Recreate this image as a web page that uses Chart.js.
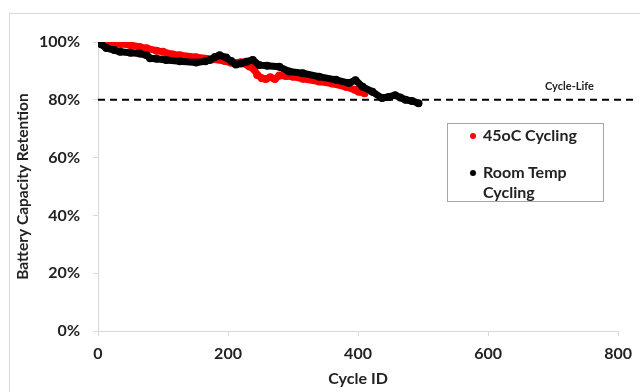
<!DOCTYPE html>
<html>
<head>
<meta charset="utf-8">
<script src="https://cdn.jsdelivr.net/npm/chart.js@4/dist/chart.umd.min.js"></script>
<style>
  body { margin: 0; background: #fff; }
  #wrap { position: relative; width: 640px; height: 392px; overflow: hidden; font-family: Lato, "Open Sans", sans-serif; }
  #frame { position: absolute; left: 9px; top: 13px; width: 700px; height: 500px; border-left: 1px solid #d9d9d9; border-top: 1px solid #d9d9d9; }
  #chart { position: absolute; left: 0; top: 0; }
  #legend { position: absolute; left: 447px; top: 123px; width: 155px; height: 77px; border: 1px solid #a6a6a6; background: #fff; }
  .item { position: absolute; left: 35px; font-weight: bold; font-size: 16px; color: #222; line-height: 20px; }
  .dot { position: absolute; left: -13px; top: 8px; width: 6px; height: 6px; border-radius: 50%; }
  #cyclelife { position: absolute; left: 545px; top: 79px; font-weight: bold; font-size: 11px; color: #222; }
</style>
</head>
<body>
<div id="wrap">
  <div id="frame"></div>
  <canvas id="chart" width="640" height="392"></canvas>
  <div id="cyclelife">Cycle-Life</div>
  <div id="legend">
    <div class="item" style="top:1px"><span class="dot" style="background:#ff0000"></span>45oC Cycling</div>
    <div class="item" style="top:38px"><span class="dot" style="background:#000"></span>Room Temp<br>Cycling</div>
  </div>
</div>
<script>
// 45oC cycling (red)
const hotCycles = [0, 8, 18, 35, 49, 64, 75, 90, 100, 115, 126, 151, 177, 195, 205, 220, 233, 240, 245, 252, 258, 265, 272, 279, 289, 300, 315, 340, 360, 381, 395, 401, 410];
const hotRetention = [100, 99.8, 99.7, 99.3, 99.0, 98.3, 97.8, 97.0, 96.6, 95.7, 95.4, 94.7, 94.0, 93.4, 92.8, 93.0, 91.5, 90.6, 88.6, 87.5, 87.2, 87.8, 87.2, 88.4, 88.2, 88.0, 87.3, 86.3, 85.6, 84.5, 83.5, 82.8, 82.3];

// room temp cycling (black)
const roomCycles = [0, 5, 13, 25, 34, 50, 64, 75, 80, 90, 105, 126, 151, 165, 172, 180, 187, 197, 205, 212, 220, 228, 238, 248, 260, 279, 294, 315, 340, 366, 386, 396, 407, 422, 437, 447, 457, 465, 473, 483, 493];
const roomRetention = [100, 99.2, 97.9, 97.2, 96.6, 96.3, 96.0, 95.4, 94.4, 94.2, 93.8, 93.3, 92.9, 93.3, 93.8, 94.8, 95.4, 94.6, 93.4, 92.2, 92.6, 93.2, 93.8, 92.0, 91.8, 91.4, 89.8, 89.2, 88.0, 86.9, 85.8, 86.8, 84.5, 82.8, 80.6, 81.0, 81.6, 80.8, 80.0, 79.6, 78.8];

// cycle-life threshold
const lifeCycles = [0, 830];
const lifeRetention = [80, 80];

const xTicks = [0, 200, 400, 600, 800];
const yTicks = [0, 20, 40, 60, 80, 100];

const pts = (xs, ys) => xs.map((x, i) => ({ x: x, y: ys[i] }));
const tickFont = { family: 'Lato', weight: 'bold', size: 16 };

new Chart(document.getElementById('chart'), {
  type: 'scatter',
  data: {
    datasets: [
      {
        label: 'Cycle-Life',
        data: pts(lifeCycles, lifeRetention),
        showLine: true,
        borderColor: '#000',
        borderWidth: 2,
        borderDash: [7, 5],
        pointRadius: 0,
        clip: false,
        order: 0
      },
      {
        label: 'Room Temp Cycling',
        data: pts(roomCycles, roomRetention),
        showLine: true,
        borderColor: '#000',
        borderWidth: 7,
        borderCapStyle: 'round',
        borderJoinStyle: 'round',
        pointRadius: 4,
        pointBorderWidth: 0,
        pointBackgroundColor: '#000',
        order: 1
      },
      {
        label: '45oC Cycling',
        data: pts(hotCycles, hotRetention),
        showLine: true,
        borderColor: '#ff0000',
        borderWidth: 7,
        borderCapStyle: 'round',
        borderJoinStyle: 'round',
        pointRadius: 4,
        pointBorderWidth: 0,
        pointBackgroundColor: '#ff0000',
        order: 2
      }
    ]
  },
  options: {
    responsive: false,
    animation: false,
    devicePixelRatio: 1,
    layout: { padding: { left: 0, top: 42, right: 18, bottom: 0 } },
    plugins: { legend: { display: false }, tooltip: { enabled: false } },
    scales: {
      x: {
        type: 'linear',
        min: 0,
        max: 800,
        afterFit: s => { s.height = 61; },
        afterBuildTicks: s => { s.ticks = xTicks.map(v => ({ value: v })); },
        grid: { drawOnChartArea: false, color: '#d9d9d9', tickLength: 5 },
        border: { color: '#d9d9d9' },
        ticks: { font: tickFont, color: '#222', padding: 8, maxRotation: 0 },
        title: {
          display: true,
          text: 'Cycle ID',
          font: { family: 'Lato', weight: 'bold', size: 16 },
          color: '#222',
          padding: { top: 0, bottom: 4 }
        }
      },
      y: {
        min: 0,
        max: 100,
        afterFit: s => { s.width = 98; },
        afterBuildTicks: s => { s.ticks = yTicks.map(v => ({ value: v })); },
        grid: { drawOnChartArea: false, color: '#d9d9d9', tickLength: 5 },
        border: { color: '#d9d9d9' },
        ticks: { font: tickFont, color: '#222', padding: 13, callback: v => v + '%' },
        title: {
          display: true,
          text: 'Battery Capacity Retention',
          font: { family: '"Liberation Sans Narrow", Lato', weight: 'bold', size: 15.5 },
          color: '#222',
          padding: { top: 14, bottom: 0 }
        }
      }
    }
  }
});
</script>
</body>
</html>
